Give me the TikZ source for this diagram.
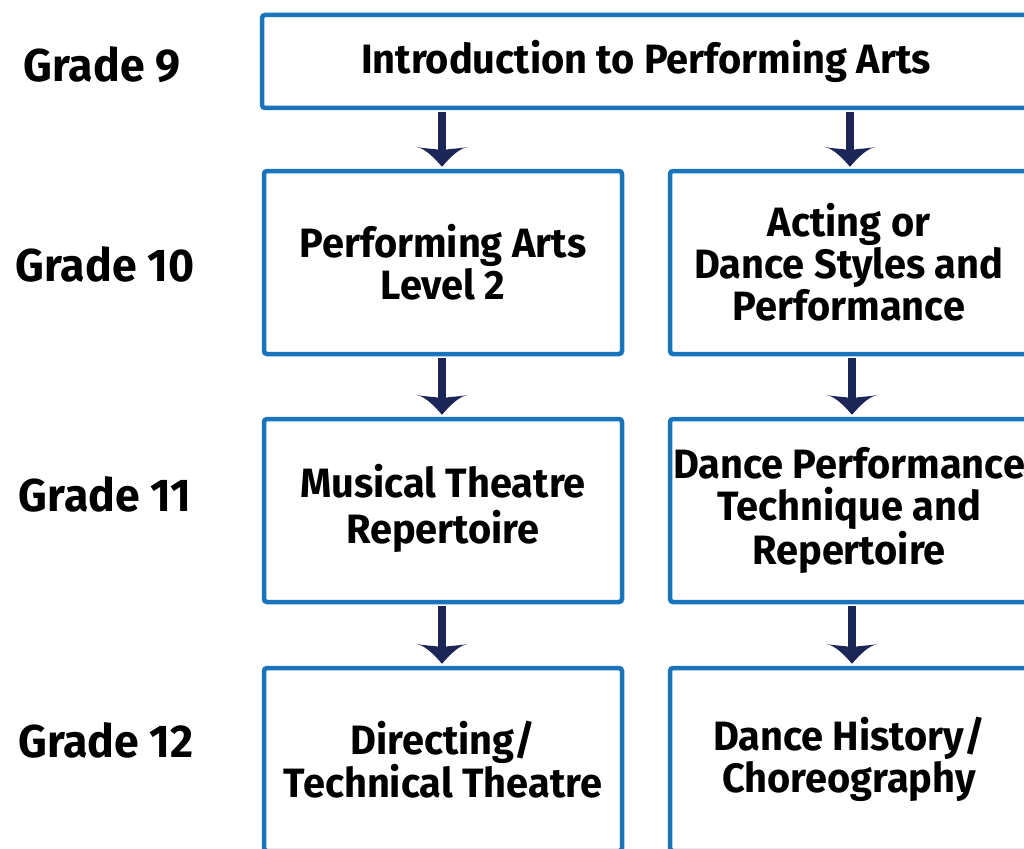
\documentclass[tikz,border=0pt]{standalone}
\usepackage{fontspec}
\setmainfont{Fira Sans}[FakeStretch=0.97]
\definecolor{boxblue}{HTML}{1A74BB}
\definecolor{arrownavy}{HTML}{1B2657}
\tikzset{
  box/.style={draw=boxblue, line width=4.5pt, rounded corners=3pt, fill=white,
    minimum width=358pt, minimum height=183pt, inner sep=0pt,
    align=center, font=\fontsize{41}{42}\selectfont\bfseries},
  gradelabel/.style={font=\fontsize{46}{48}\selectfont\bfseries, inner sep=0pt},
  shaft/.style={draw=arrownavy, line width=8pt},
  headfill/.style={fill=arrownavy},
}
\newcommand{\arrowheadat}[1]{%
  \fill[headfill] (#1) .. controls +(-7,-8) and +(10,2) .. ++(-26,-20)
     .. controls +(8,2) and +(-2,-1) .. ++(22,3)
     -- ++(8,0)
     .. controls +(2,-1) and +(-8,2) .. ++(22,-3)
     .. controls +(-10,2) and +(7,-8) .. cycle;}
\begin{document}
\begin{tikzpicture}[x=1pt,y=-1pt]
\useasboundingbox (0,0) rectangle (1024,848);
\clip (0,0) rectangle (1024,848);
% grade labels
\node[gradelabel] (g9)  at (102,65)  {Grade 9};
\node[gradelabel] (g10) at (105,264) {Grade 10};
\node[gradelabel] (g11) at (105,494) {Grade 11};
\node[gradelabel] (g12) at (106,740) {Grade 12};
% boxes
\node[box, minimum width=768pt, minimum height=93pt] (intro) at (646,61.5) {Introduction to Performing Arts};
\node[box] (pa2)   at (443,262.5) {Performing Arts\\Level 2};
\node[box] (act)   at (849,262.5) {Acting or\\Dance Styles and\\Performance};
\node[box] (mtr)   at (443,510.5) {\raisebox{8pt}{\begin{tabular}{@{}c@{}}Musical Theatre\\Repertoire\end{tabular}}};
\node[box] (dpt)   at (849,510.5) {Dance Performance\\Technique and\\Repertoire};
\node[box] (dir)   at (443,759.5) {Directing/\\Technical Theatre};
\node[box] (dhc)   at (849,759.5) {Dance History/\\Choreography};
% connectors
\foreach \a/\b/\x in {intro/pa2/442, intro/act/850, pa2/mtr/442, act/dpt/852, mtr/dir/442, dpt/dhc/852}{
  \coordinate (top-\b) at (\x,0 |- \a.south);
  \coordinate (tip-\b) at (\x,0 |- \b.north);
  \coordinate (tip-\b) at ([yshift=2pt]tip-\b);
  \draw[shaft] ([yshift=-2pt]top-\b) -- ([yshift=14pt]tip-\b);
  \arrowheadat{tip-\b}
}
\end{tikzpicture}
\end{document}
